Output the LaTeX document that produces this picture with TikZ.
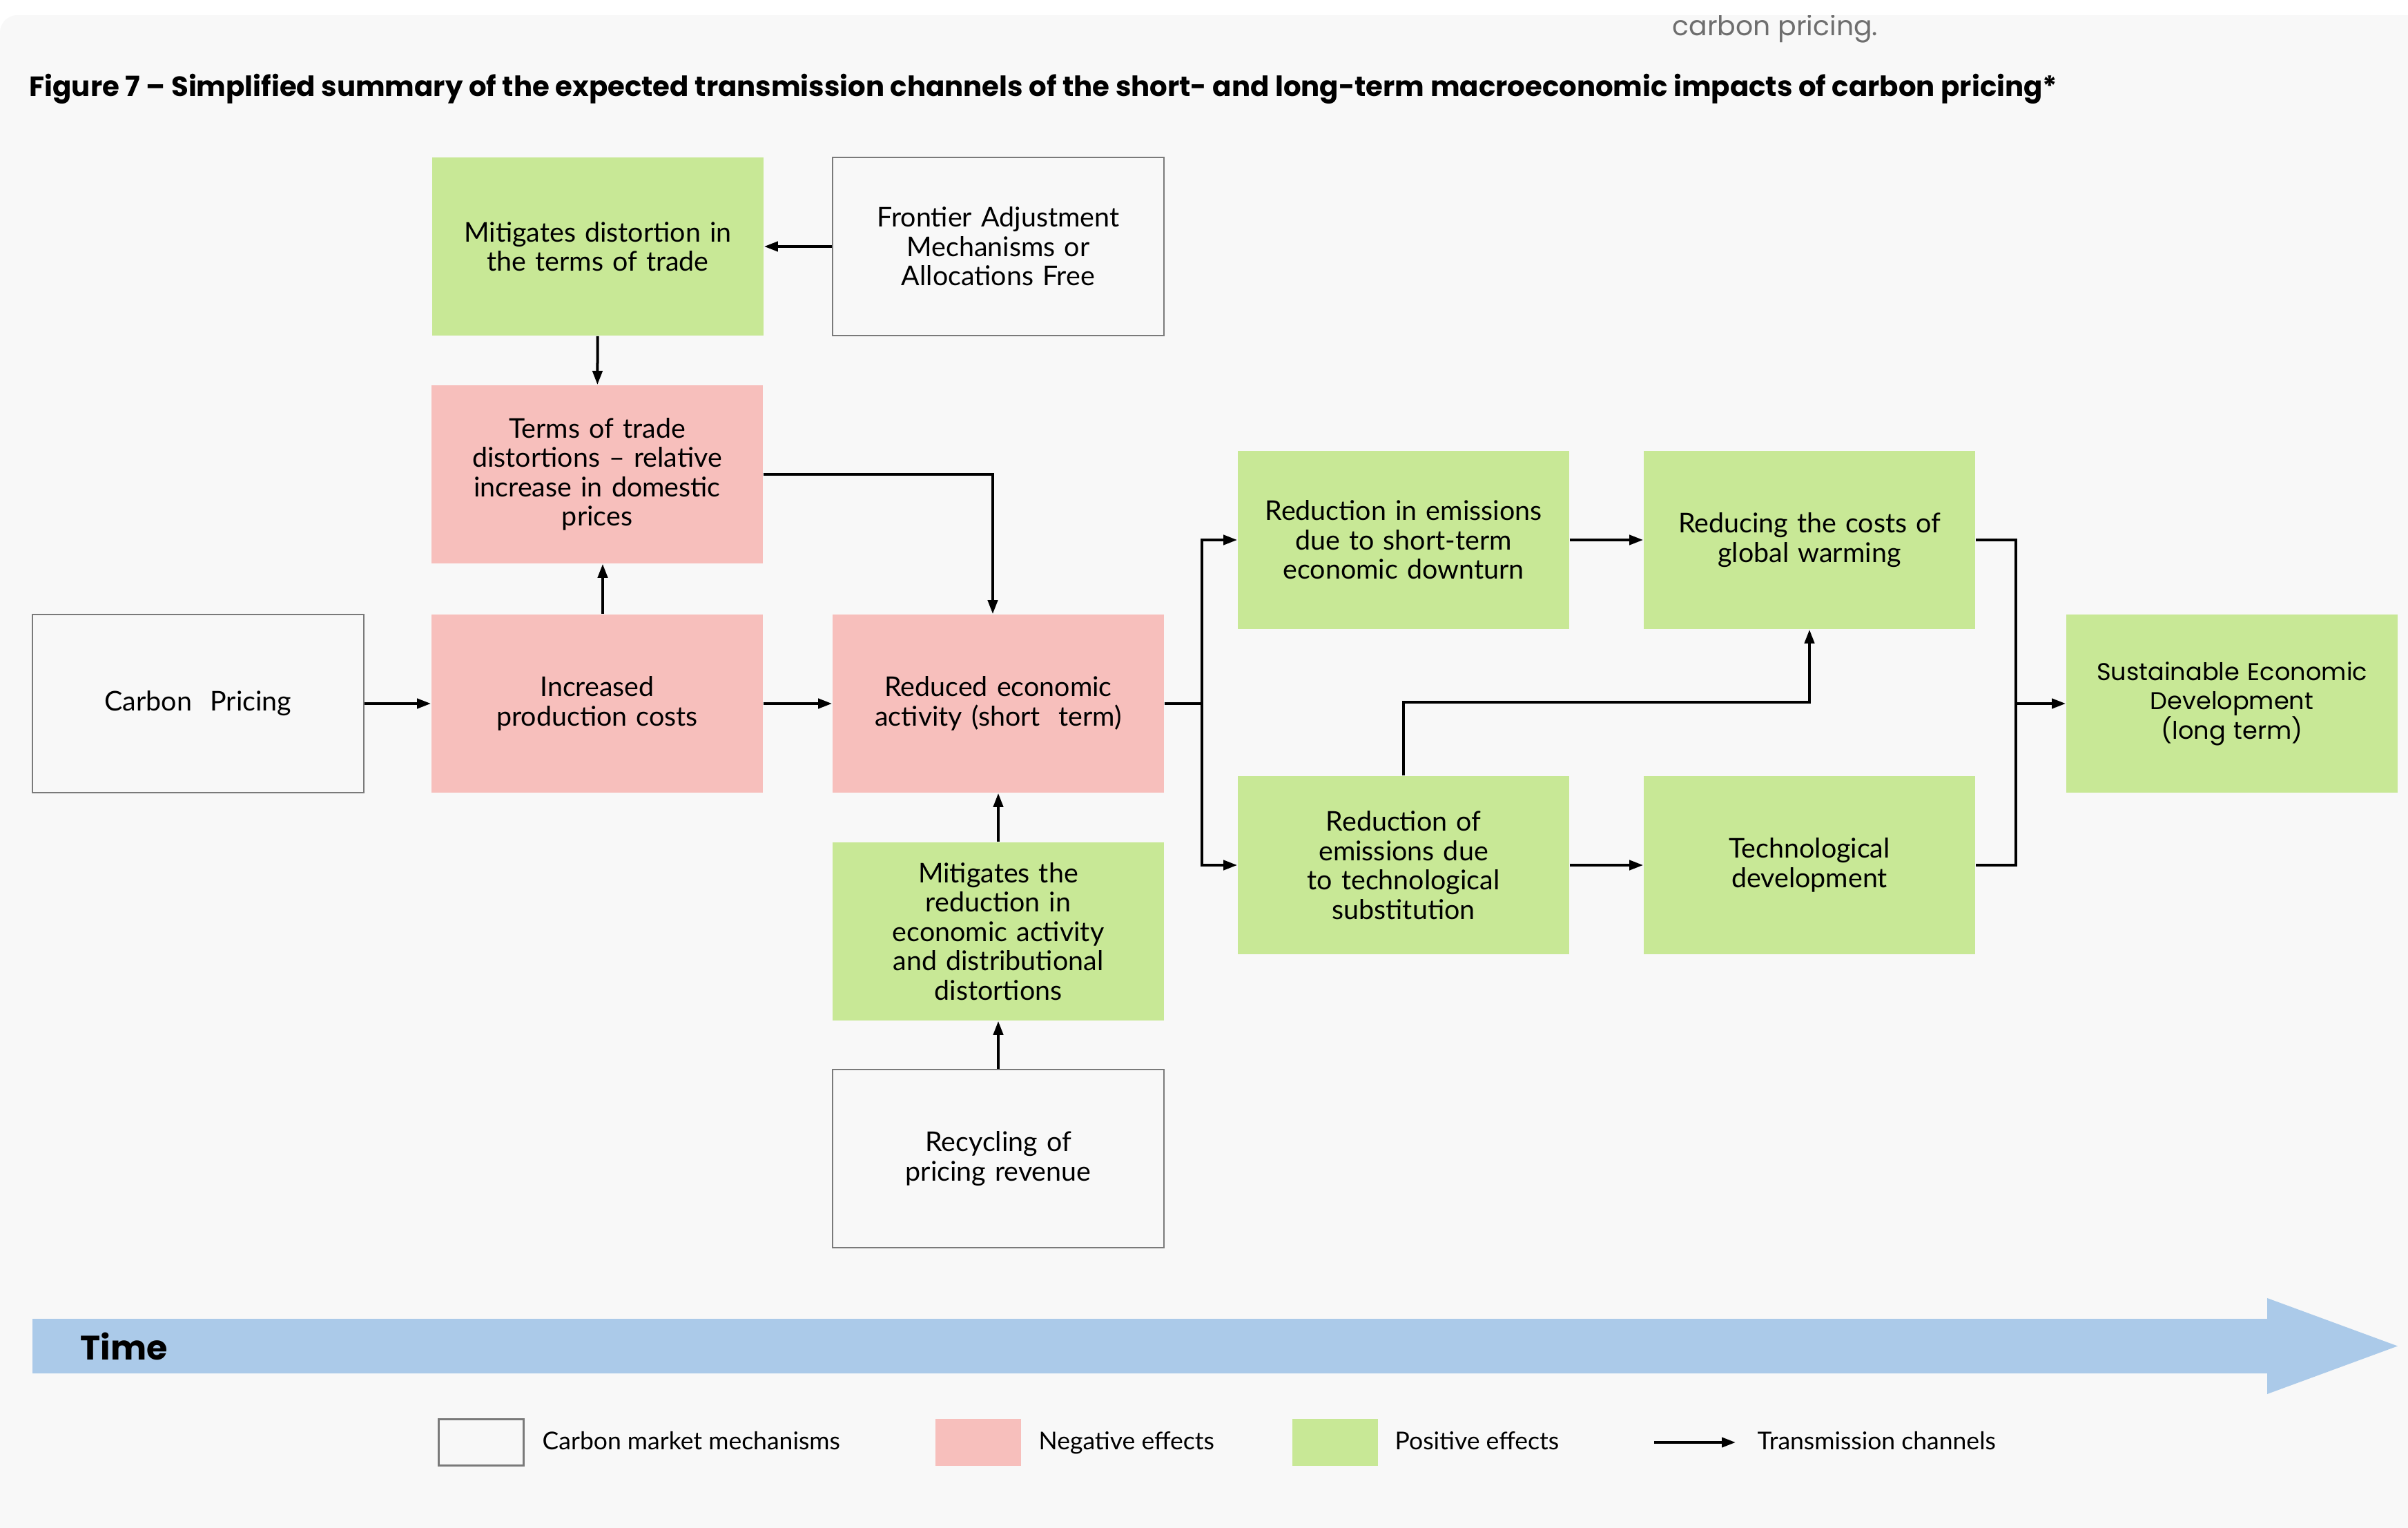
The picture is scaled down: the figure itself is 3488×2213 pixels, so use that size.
\documentclass[tikz,border=0pt]{standalone}
\usepackage{fontspec}
\setmainfont{Lato}
\newfontfamily\widefont{Poppins}
\usetikzlibrary{arrows.meta}

\definecolor{posgreen}{HTML}{C8E896}
\definecolor{negpink}{HTML}{F7BFBC}
\definecolor{timeblue}{HTML}{ABCAE9}
\definecolor{panelgray}{HTML}{F8F8F8}
\definecolor{edgegray}{HTML}{7A7A7A}
\definecolor{notegray}{HTML}{6E6E6E}

\begin{document}
\begin{tikzpicture}[x=0.01cm, y=-0.01cm,
    box/.style={minimum width=4.8cm, minimum height=2.58cm, inner sep=0pt,
      text width=4.7cm, align=center, font=\fontsize{11.2}{12.1}\selectfont},
    mechbox/.style={box, draw=edgegray, line width=0.6pt},
    negbox/.style={box, fill=negpink},
    posbox/.style={box, fill=posgreen},
    chan/.style={-{Triangle[length=0.2cm, width=0.14cm]}, line width=0.04cm},
    key/.style={minimum width=1.23cm, minimum height=0.67cm, inner sep=0pt},
    keytext/.style={anchor=base west, inner sep=0pt, font=\fontsize{10.1}{11}\selectfont}]
  \useasboundingbox (0,0) rectangle (3488,2213);
  \fill[white] (0,0) rectangle (3488,2213);
  \fill[panelgray, rounded corners=0.25cm] (0,22) rectangle (3600,2300);
  \node[anchor=base west, inner sep=0pt, text=notegray,
    font=\widefont\fontsize{11.2}{12}\selectfont] (note) at (2422,52) {carbon pricing.};
  \fill[white] (0,0) rectangle (3488,22);
  \node[anchor=base west, inner sep=0pt, font=\widefont\bfseries\fontsize{11.45}{13}\selectfont]
    (title) at (42,140) {Figure 7 – Simplified summary of the expected transmission channels of the short- and long-term macroeconomic impacts of carbon pricing*};

  \draw
    (287,1019) node[mechbox] (price) {Carbon~~Pricing}
    (865,1019) node[negbox] (cost) {Increased\\production costs}
    (865,687) node[negbox] (trade) {Terms of trade\\distortions – relative\\increase in domestic\\prices}
    (866,357) node[posbox] (eases) {Mitigates distortion in\\the terms of trade}
    (1446,357) node[mechbox] (border) {Frontier Adjustment\\Mechanisms or\\Allocations Free}
    (1446,1019) node[negbox] (act) {Reduced economic\\activity (short~~term)}
    (1446,1349) node[posbox] (relief) {Mitigates the\\reduction in\\economic activity\\and distributional\\distortions}
    (1446,1678) node[mechbox] (recycle) {Recycling of\\pricing revenue}
    (2033,782) node[posbox] (slump) {Reduction in emissions\\due to short-term\\economic downturn}
    (2033,1253) node[posbox] (subst) {Reduction of\\emissions due\\to technological\\substitution}
    (2621,782) node[posbox] (warm) {Reducing the costs of\\global warming}
    (2621,1253) node[posbox] (tech) {Technological\\development}
    (3233,1019) node[posbox, font=\widefont\fontsize{10}{12.1}\selectfont] (sust) {Sustainable Economic\\Development\\(long term)};
  \coordinate (fork) at (1741,1019);
  \coordinate (join) at (2920,1019);

  \begin{scope}[chan]
    \draw (border) -- (eases);
    \draw (eases) -- (trade);
    \draw ([xshift=0.08cm]cost.north) -- ([xshift=0.08cm]trade.south);
    \draw (trade.east) -| ([xshift=-0.08cm]act.north);
    \draw (price) -- (cost);
    \draw (cost) -- (act);
    \draw (relief) -- (act);
    \draw (recycle) -- (relief);
    \draw (fork) |- (slump.west);
    \draw (fork) |- (subst.west);
    \draw (slump) -- (warm);
    \draw (subst) -- (tech);
    \draw (subst.north) -- ++(0,-106) -| (warm.south);
    \draw (join) -- (sust.west);
  \end{scope}
  \draw[line width=0.04cm] (act.east) -- (fork);
  \draw[line width=0.04cm] (warm.east) -| (join) |- (tech.east);

  % time axis
  \fill[timeblue] (47,1910) -- (3284,1910) -- (3284,1880) -- (3473,1949.5)
    -- (3284,2019) -- (3284,1989) -- (47,1989) -- cycle;
  \node[anchor=west, inner sep=0pt, font=\widefont\bfseries\fontsize{14}{16}\selectfont]
    (time) at (116,1950) {Time};

  % legend
  \node[key, draw=edgegray, line width=0.6pt] (k1) at (697,2089) {};
  \node[keytext] (k1t) at (785,2099) {Carbon market mechanisms};
  \node[key, fill=negpink] (k2) at (1417,2089) {};
  \node[keytext] (k2t) at (1504,2099) {Negative effects};
  \node[key, fill=posgreen] (k3) at (1934,2089) {};
  \node[keytext] (k3t) at (2020,2099) {Positive effects};
  \coordinate (k4a) at (2396,2089);
  \coordinate (k4b) at (2514,2089);
  \draw[chan] (k4a) -- (k4b);
  \node[keytext] (k4t) at (2545,2099) {Transmission channels};
\end{tikzpicture}
\end{document}
